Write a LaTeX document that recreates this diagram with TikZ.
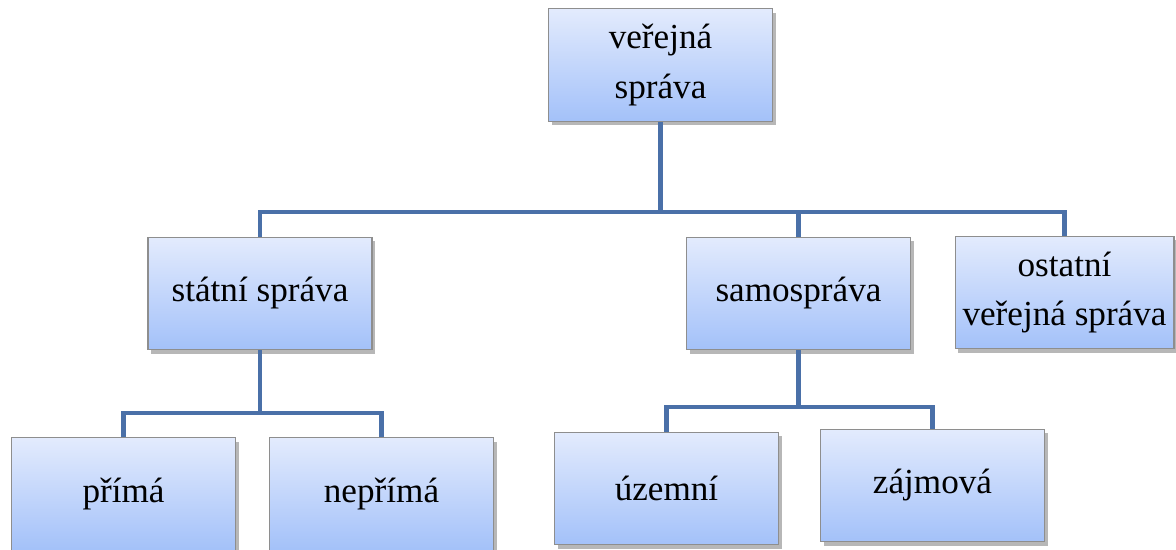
\documentclass[tikz,border=0pt]{standalone}
\usepackage{fontspec}
\setmainfont{Liberation Serif}
\usetikzlibrary{calc, shadows}
\definecolor{LinkBlue}{HTML}{4A70A8}
\definecolor{BoxTop}{HTML}{E3EBFD}
\definecolor{BoxBottom}{HTML}{A3C1F9}
\definecolor{BoxEdge}{HTML}{8E8E8E}
\tikzset{
    box/.style={draw=BoxEdge, line width=0.8pt, top color=BoxTop, bottom color=BoxBottom,
        minimum width=5.6cm, minimum height=2.82cm, align=center, inner sep=1pt,
        font=\fontsize{25}{35}\selectfont,
        drop shadow={shadow xshift=0.08cm, shadow yshift=-0.1cm, opacity=0.4, fill=black!70}},
    link/.style={draw=LinkBlue, line width=2.9pt, line join=miter}
}
\begin{document}
\begin{tikzpicture}[x=0.025cm, y=-0.025cm]
            \useasboundingbox (0,0) rectangle (1176,549);
            \node[box] (verejna) at (660.5,65) {veřejná\\správa};
            \node[box] (statni) at (260,293.5) {státní správa};
            \node[box] (samosprava) at (798.5,293.5) {samospráva};
            \node[box, minimum width=5.47cm] (ostatni) at (1064.5,292.5) {ostatní\\veřejná správa};
            \node[box] (prima) at (123.5,494) {přímá};
            \node[box] (neprima) at (381.5,494) {nepřímá};
            \node[box] (uzemni) at (666.5,488.5) {územní};
            \node[box] (zajmova) at (932.5,485.5) {zájmová};
            \coordinate (j1) at (660.5,212);
            \coordinate (j2) at (260,413);
            \coordinate (j3) at (798.5,407);
            \draw[link] (verejna.south) -- (j1);
            \draw[link] (statni.north) |- (j1) -| (ostatni.north);
            \draw[link] (samosprava.north) -- (samosprava.north |- j1);
            \draw[link] (statni.south) -- (j2);
            \draw[link] (prima.north) |- (j2) -| (neprima.north);
            \draw[link] (samosprava.south) -- (j3);
            \draw[link] (uzemni.north) |- (j3) -| (zajmova.north);
        \end{tikzpicture}
\end{document}
